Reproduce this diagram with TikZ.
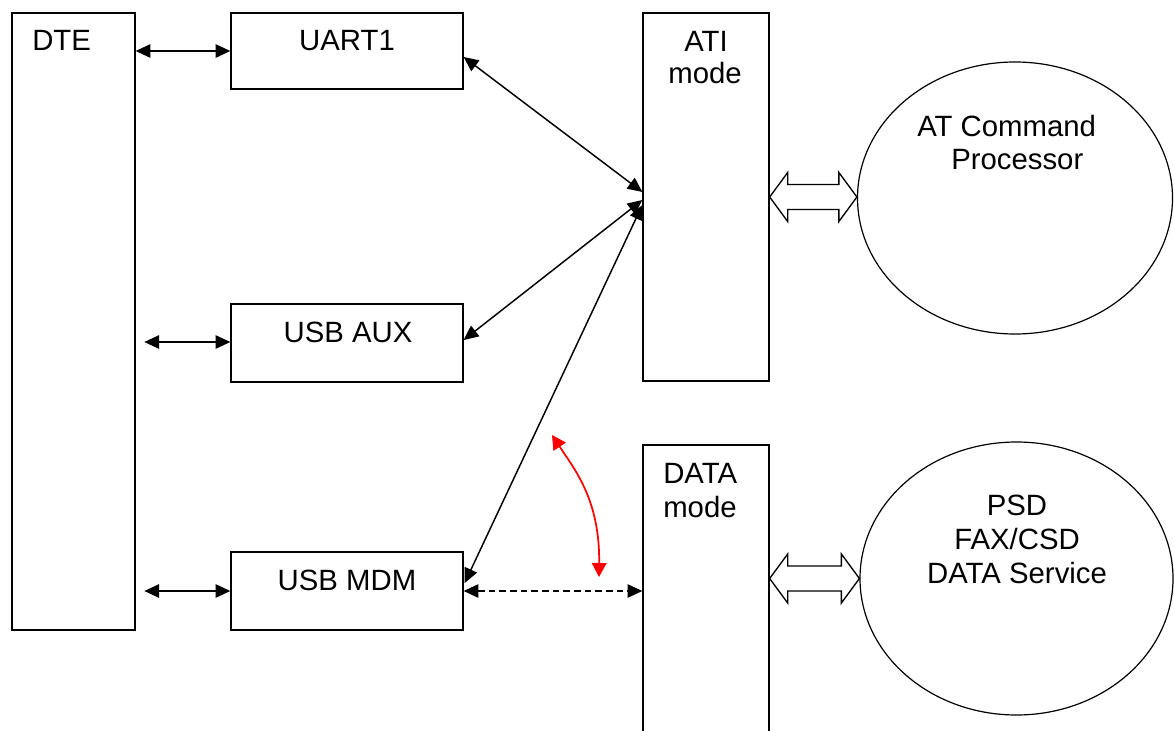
\documentclass[tikz,border=0pt]{standalone}
\usepackage{fontspec}
\setmainfont{Liberation Sans}
\usetikzlibrary{arrows.meta,calc,shapes.geometric}
\tikzset{
  box/.style={draw=black, line width=1pt, rectangle, inner sep=0pt, fill=white},
  ell/.style={draw=black, line width=0.9pt, ellipse, inner sep=0pt},
  txt/.style={inner sep=0pt, font=\fontsize{22}{26}\selectfont},
  biarrow/.style={line width=1.1pt, {Triangle[length=11pt,width=10pt]}-{Triangle[length=11pt,width=10pt]}},
  redarrow/.style={line width=1.3pt, red, {Triangle[length=10.5pt,width=11pt]}-{Triangle[length=10.5pt,width=11pt]}},
  hollow/.style={draw=black, line width=1pt, fill=white, line join=miter},
}
\newcommand\hollowarr[2]{%
  \draw[hollow] (#1) -- ($(#1)+(18,-24.5)$) -- ($(#1)+(18,-12.5)$) -- ($(#2)+(-18,-12.5)$) -- ($(#2)+(-18,-24.5)$) -- (#2) -- ($(#2)+(-18,24.5)$) -- ($(#2)+(-18,12.5)$) -- ($(#1)+(18,12.5)$) -- ($(#1)+(18,24.5)$) -- cycle;}
\begin{document}
\begin{tikzpicture}[x=0.75pt, y=-0.75pt]
\useasboundingbox (0,0) rectangle (1174,731);
\clip (0,0) rectangle (1174,731);
\fill[white] (0,0) rectangle (1174,731);
% boxes
\node[box, minimum width=92.25pt, minimum height=462.75pt] (dte) at (73.5,321.5) {};
\node[box, minimum width=174pt, minimum height=57pt] (uart) at (347,51) {};
\node[box, minimum width=174pt, minimum height=58.5pt] (aux) at (347,343) {};
\node[box, minimum width=174pt, minimum height=58.5pt] (mdm) at (347,591) {};
\node[box, minimum width=94.5pt, minimum height=276pt] (ati) at (706,197) {};
\node[box, minimum width=94.5pt, minimum height=240pt] (data) at (706,605) {};
\node[ell, minimum width=236.25pt, minimum height=204pt] (atc) at (1015,198) {};
\node[ell, minimum width=234.75pt, minimum height=204.75pt] (psd) at (1016.5,578.5) {};
% texts
\node[txt, anchor=base west] (tdte) at (32,51) {DTE};
\node[txt, anchor=base] (tuart) at (347,51) {UART1};
\node[txt, anchor=base] (taux) at (348,342) {USB AUX};
\node[txt, anchor=base] (tmdm) at (347,590) {USB MDM};
\node[txt, anchor=base] (tati1) at (706,52) {ATI};
\node[txt, anchor=base] (tati2) at (705,84) {mode};
\node[txt, anchor=base west] (tdata1) at (663,483) {DATA};
\node[txt, anchor=base west] (tdata2) at (663,517) {mode};
\node[txt, anchor=base west] (tatc1) at (917,137) {AT Command};
\node[txt, anchor=base west] (tatc2) at (951,170) {Processor};
\node[txt, anchor=base] (tpsd1) at (1017,515) {PSD};
\node[txt, anchor=base] (tpsd2) at (1017,549) {FAX/CSD};
\node[txt, anchor=base] (tpsd3) at (1017,583) {DATA Service};
% DTE connectors
\draw[biarrow] (dte.east |- uart.west) -- (uart.west);
\coordinate (auxL) at ($(aux.west)+(-86,-1)$);
\draw[biarrow] (auxL) -- (aux.west |- auxL);
\coordinate (mdmL) at ($(mdm.west)+(-86,0)$);
\draw[biarrow] (mdmL) -- (mdm.west);
% to ATI
\draw[biarrow] ($(uart.east)+(0,6)$) -- ($(ati.west)+(0,-5)$);
\draw[biarrow] ($(aux.east)+(0,-3)$) -- ($(ati.west)+(0,3)$);
\draw[biarrow] ($(mdm.east)+(1,-8)$) -- ($(ati.west)+(0,8)$);
% dashed to DATA
\draw[biarrow, dash pattern=on 5pt off 3pt] (mdm.east) -- (mdm.east -| data.west);
% red curved arrow
\coordinate (r1) at (552,435);
\coordinate (r2) at (599,577);
\draw[redarrow] (r1) .. controls (575,470) and (600,500) .. (r2);
% hollow double arrows
\coordinate (h1a) at (ati.east);
\coordinate (h1b) at (ati.east -| atc.west);
\hollowarr{h1a}{h1b}
\coordinate (h2b) at (psd.west);
\coordinate (h2a) at (psd.west -| data.east);
\hollowarr{h2a}{h2b}
\end{tikzpicture}
\end{document}
